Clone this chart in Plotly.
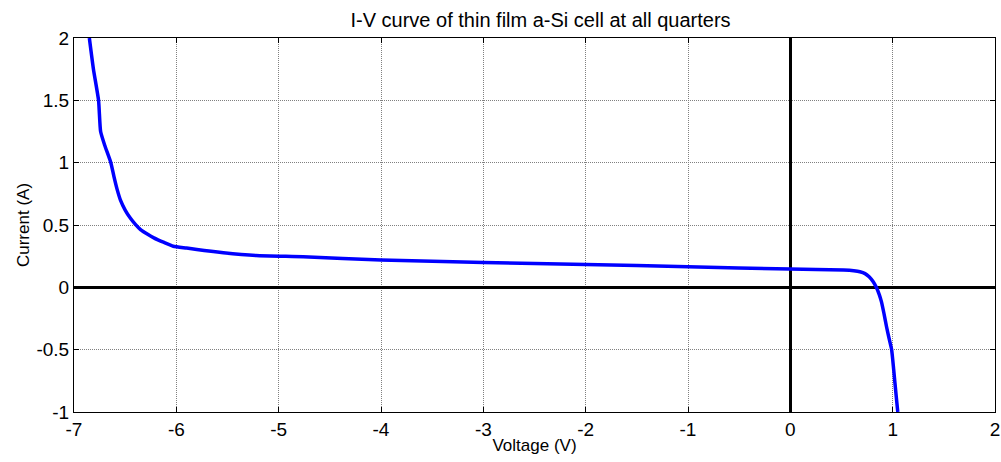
import plotly.graph_objects as go

voltage = [-6.85, -6.81, -6.76, -6.74, -6.70, -6.64, -6.61, -6.58, -6.546, -6.50,
           -6.45, -6.40, -6.35, -6.28, -6.22, -6.12, -6.03, -5.90, -5.80, -5.54,
           -5.22, -4.76, -4.0, -3.0, -2.0, -1.0, 0.0, 0.52, 0.62, 0.68,
           0.73, 0.77, 0.81, 0.84, 0.87, 0.89, 0.915, 0.94, 0.965, 0.99,
           1.01, 1.035, 1.05]
current = [2.0, 1.75, 1.5, 1.25, 1.14, 1.0, 0.89, 0.79, 0.70, 0.62,
           0.556, 0.505, 0.463, 0.425, 0.397, 0.36, 0.33, 0.315, 0.303, 0.277,
           0.255, 0.245, 0.22, 0.2, 0.184, 0.165, 0.147, 0.139, 0.133, 0.125,
           0.11, 0.085, 0.045, 0.0, -0.06, -0.115, -0.21, -0.316, -0.41, -0.5,
           -0.66, -0.877, -1.0]

x_ticks = [-7, -6, -5, -4, -3, -2, -1, 0, 1, 2]
y_ticks = [-1, -0.5, 0, 0.5, 1, 1.5, 2]
y_labels = ["-1", "-0.5", "0", "0.5", "1", "1.5", "2"]

font = "Liberation Sans, Arial, sans-serif"

fig = go.Figure()
fig.add_trace(go.Scatter(x=voltage, y=current, mode="lines",
                         line=dict(color="#0000FF", width=3.5, shape="spline", smoothing=0.5),
                         showlegend=False, hoverinfo="skip"))

axis_common = dict(
    showline=True, linecolor="black", linewidth=1, mirror="ticks",
    ticks="inside", ticklen=5, tickcolor="black",
    showgrid=True, gridcolor="#808080", gridwidth=1, griddash="1px,1px",
    zeroline=True, zerolinecolor="black", zerolinewidth=3,
    tickfont=dict(family=font, size=19, color="black"),
    ticklabeloverflow="allow",
)

fig.update_xaxes(range=[-7, 2], tickvals=x_ticks, ticktext=[str(v) for v in x_ticks],
                 title=dict(text="Voltage (V)", font=dict(family=font, size=17, color="black"), standoff=0),
                 **axis_common)
fig.update_yaxes(range=[-1, 2], tickvals=y_ticks, ticktext=y_labels,
                 title=dict(text="Current (A)", font=dict(family=font, size=17, color="black"), standoff=2),
                 **axis_common)

fig.update_layout(
    width=1001, height=462,
    margin=dict(l=74, r=1, t=38, b=50),
    paper_bgcolor="white", plot_bgcolor="white",
    title=dict(text="I-V curve of thin film a-Si cell at all quarters",
               x=0.54, xanchor="center", y=1 - 20 / 462, yref="container", yanchor="middle",
               font=dict(family=font, size=20, color="black")),
)

fig.write_html("out.html", config={"displayModeBar": False},
               post_script="document.body.style.margin='0';document.body.style.overflow='hidden';")
